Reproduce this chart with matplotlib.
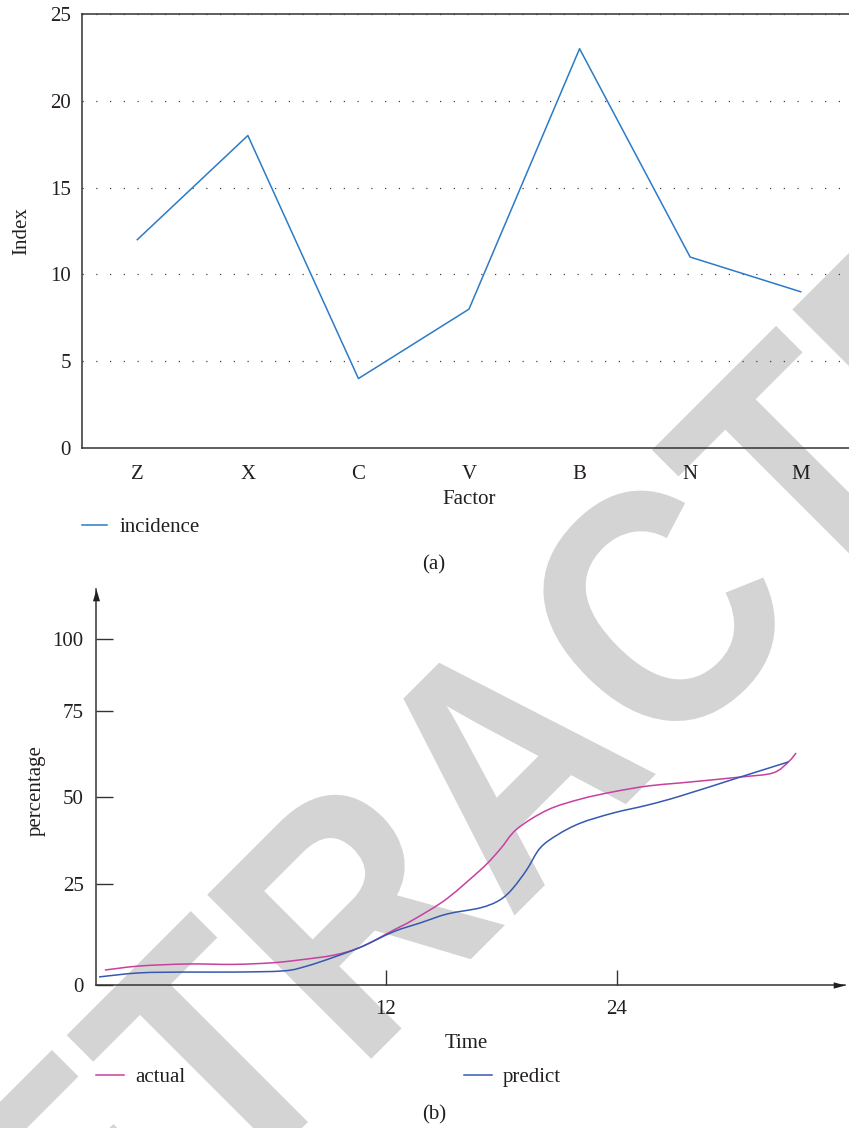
import numpy as np
import matplotlib
matplotlib.use("Agg")
import matplotlib.pyplot as plt
from matplotlib.textpath import TextPath
from matplotlib.patches import PathPatch
from matplotlib.font_manager import FontProperties
from matplotlib.transforms import Affine2D, IdentityTransform
from matplotlib.path import Path
from matplotlib.lines import Line2D

# ---------------- data ----------------
factors = ["Z", "X", "C", "V", "B", "N", "M"]
incidence = [12, 18, 4, 8, 23, 11, 9]

time_actual = [-2.6, -0.8, 1.7, 4.1, 6.1, 7.5, 9.3, 10.7, 12.4, 13.4, 15.2, 16.9,
               17.9, 18.8, 20.4, 22.1, 23.8, 25.6, 27.3, 30.4, 32.1, 32.9, 33.3]
actual = [3.7, 4.7, 5.2, 5.1, 5.5, 6.2, 7.4, 9.4, 13.6, 16.1, 21.5, 29.0,
          34.8, 40.8, 46.3, 49.4, 51.5, 53.2, 54.1, 55.8, 57.0, 60.2, 62.8]

time_predict = [-2.9, -0.8, 1.7, 4.1, 6.7, 7.9, 9.3, 10.7, 12.4, 13.8, 15.2, 16.9,
                17.9, 18.6, 19.3, 20.0, 20.9, 22.1, 23.8, 25.6, 27.3, 30.4, 32.9]
predict = [2.0, 3.0, 3.2, 3.2, 3.5, 4.7, 6.9, 9.4, 13.2, 15.4, 17.6, 19.1,
           21.0, 24.0, 29.0, 35.3, 39.1, 42.5, 45.4, 47.7, 50.3, 55.8, 60.2]

pct_ticks = [0, 25, 50, 75, 100]
pct_tick_pos = [0, 101, 188, 274, 346]   # uneven spacing of the printed axis
time_ticks = [12, 24]

# ---------------- style ----------------
W, H = 849, 1128
TXT = "#231f20"
plt.rcParams["font.family"] = ["Liberation Serif", "DejaVu Serif"]
FS = 15

fig = plt.figure(figsize=(W / 100, H / 100), dpi=100)
fig.patch.set_facecolor("white")

# ---------------- watermark ----------------
fp = FontProperties(family="Liberation Sans", weight="bold")
tp = TextPath((0, 0), "RETRACTED", size=1, prop=fp)
capT = TextPath((0, 0), "T", size=1, prop=fp).get_extents().y1
ext = tp.get_extents()
cx = (ext.x0 + ext.x1) / 2
sx = 298.0
sy = 232.0 / capT
tr = (Affine2D().translate(-cx, 0).scale(sx, sy).rotate_deg(45)
      .translate(588, H - 842))
wm = PathPatch(tr.transform_path(tp), facecolor="#d4d4d4", edgecolor="none",
               transform=IdentityTransform(), zorder=-5)
fig.add_artist(wm)

# ---------------- chart (a) ----------------
ax1 = fig.add_axes([82 / W, 1 - 448 / H, (856 - 82) / W, (448 - 14) / H])
ax1.set_facecolor("none")
line_inc, = ax1.plot(range(len(factors)), incidence, color="#2b7bc7", lw=1.1,
                     label="incidence", zorder=3)
ax1.set_xlim(-0.5, len(factors) - 0.5)
ax1.set_ylim(0, 25)
ax1.set_xticks(range(len(factors)), factors)
ax1.set_yticks([0, 5, 10, 15, 20, 25])
ax1.tick_params(axis="both", length=0, labelsize=FS, labelcolor=TXT)
ax1.tick_params(axis="x", pad=12)
ax1.tick_params(axis="y", pad=8)
ax1.yaxis.grid(True, linestyle=(0, (1, 10)), color="#444444", lw=0.9)
for s in ax1.spines.values():
    s.set_color("#333333")
    s.set_linewidth(1.1)

fig.text(22 / W, 1 - 231 / H, "Index", rotation=90, ha="center", va="center",
         fontsize=FS, color=TXT)
fig.text(469 / W, 1 - 500 / H, "Factor", ha="center", va="center",
         fontsize=FS, color=TXT)
ax1.legend(handles=[line_inc], loc="center left",
           bbox_to_anchor=(82 / W, 1 - 527 / H),
           bbox_transform=fig.transFigure, frameon=False,
           handlelength=1.2, handletextpad=0.6, borderpad=0,
           borderaxespad=0, fontsize=FS, labelcolor=TXT)
fig.text(434 / W, 1 - 565 / H, "(a)", ha="center", va="center",
         fontsize=FS, color=TXT)

# ---------------- chart (b) ----------------
kv = np.array(pct_ticks, float)
kp = np.array(pct_tick_pos, float)


def fwd(v):
    v = np.asarray(v, float)
    p = np.interp(v, kv, kp)
    lo = v * (kp[1] - kp[0]) / (kv[1] - kv[0])
    hi = kp[-1] + (v - kv[-1]) * (kp[-1] - kp[-2]) / (kv[-1] - kv[-2])
    return np.where(v < kv[0], lo, np.where(v > kv[-1], hi, p))


def inv(p):
    p = np.asarray(p, float)
    v = np.interp(p, kp, kv)
    lo = p * (kv[1] - kv[0]) / (kp[1] - kp[0])
    hi = kv[-1] + (p - kp[-1]) * (kv[-1] - kv[-2]) / (kp[-1] - kp[-2])
    return np.where(p < kp[0], lo, np.where(p > kp[-1], hi, v))


def smooth_path(xs, ys):
    """Catmull-Rom curve through the given points as cubic Bezier segments."""
    P = np.column_stack([xs, ys]).astype(float)
    P = np.vstack([P[0], P, P[-1]])
    verts = [P[1]]
    codes = [Path.MOVETO]
    for i in range(1, len(P) - 2):
        p0, p1, p2, p3 = P[i - 1], P[i], P[i + 1], P[i + 2]
        verts += [p1 + (p2 - p0) / 6.0, p2 - (p3 - p1) / 6.0, p2]
        codes += [Path.CURVE4] * 3
    return Path(verts, codes)


ax2 = fig.add_axes([96 / W, 1 - 985 / H, (845 - 96) / W, (985 - 589) / H])
ax2.set_facecolor("none")
ax2.set_yscale("function", functions=(fwd, inv))
ax2.set_xlim(-3.06, 35.84)
ax2.set_ylim(0, float(inv(396)))

c_act, c_pre = "#c8409e", "#3558b0"
ax2.add_patch(PathPatch(smooth_path(time_actual, actual), fill=False,
                        edgecolor=c_act, lw=1.1, zorder=3))
ax2.add_patch(PathPatch(smooth_path(time_predict, predict), fill=False,
                        edgecolor=c_pre, lw=1.1, zorder=3))
l_act = Line2D([], [], color=c_act, lw=1.1, label="actual")
l_pre = Line2D([], [], color=c_pre, lw=1.1, label="predict")

ax2.set_xticks(time_ticks)
ax2.set_yticks(pct_ticks)
ax2.tick_params(axis="both", direction="in", width=1.0, color="#333333",
                labelsize=FS, labelcolor=TXT)
ax2.tick_params(axis="y", length=12.5, pad=9)
ax2.tick_params(axis="x", length=11, pad=10.5)
for k in ("top", "right"):
    ax2.spines[k].set_visible(False)
for k in ("left", "bottom"):
    ax2.spines[k].set_color("#333333")
    ax2.spines[k].set_linewidth(1.1)

arrow_r = Path([(0, 0), (-1, 0.27), (-1, -0.27), (0, 0)])
arrow_u = Path([(0, 0), (0.3, -1), (-0.3, -1), (0, 0)])
ax2.plot([1], [0], marker=arrow_r, ms=17, color="#231f20", mew=0,
         transform=ax2.transAxes, clip_on=False, zorder=4)
ax2.plot([0], [1], marker=arrow_u, ms=17, color="#231f20", mew=0,
         transform=ax2.transAxes, clip_on=False, zorder=4)

fig.text(36 / W, 1 - 791 / H, "percentage", rotation=90, ha="center",
         va="center", fontsize=FS, color=TXT)
fig.text(466 / W, 1 - 1044 / H, "Time", ha="center", va="center",
         fontsize=FS, color=TXT)

leg_b1 = ax2.legend(handles=[l_act], loc="center left",
                    bbox_to_anchor=(96 / W, 1 - 1077 / H),
                    bbox_transform=fig.transFigure, frameon=False,
                    handlelength=1.35, handletextpad=0.53, borderpad=0,
                    borderaxespad=0, fontsize=FS, labelcolor=TXT)
ax2.add_artist(leg_b1)
ax2.legend(handles=[l_pre], loc="center left",
           bbox_to_anchor=(464 / W, 1 - 1077 / H),
           bbox_transform=fig.transFigure, frameon=False,
           handlelength=1.35, handletextpad=0.53, borderpad=0,
           borderaxespad=0, fontsize=FS, labelcolor=TXT)
fig.text(434 / W, 1 - 1115 / H, "(b)", ha="center", va="center",
         fontsize=FS, color=TXT)

fig.savefig("out.png", dpi=100, facecolor="white")
